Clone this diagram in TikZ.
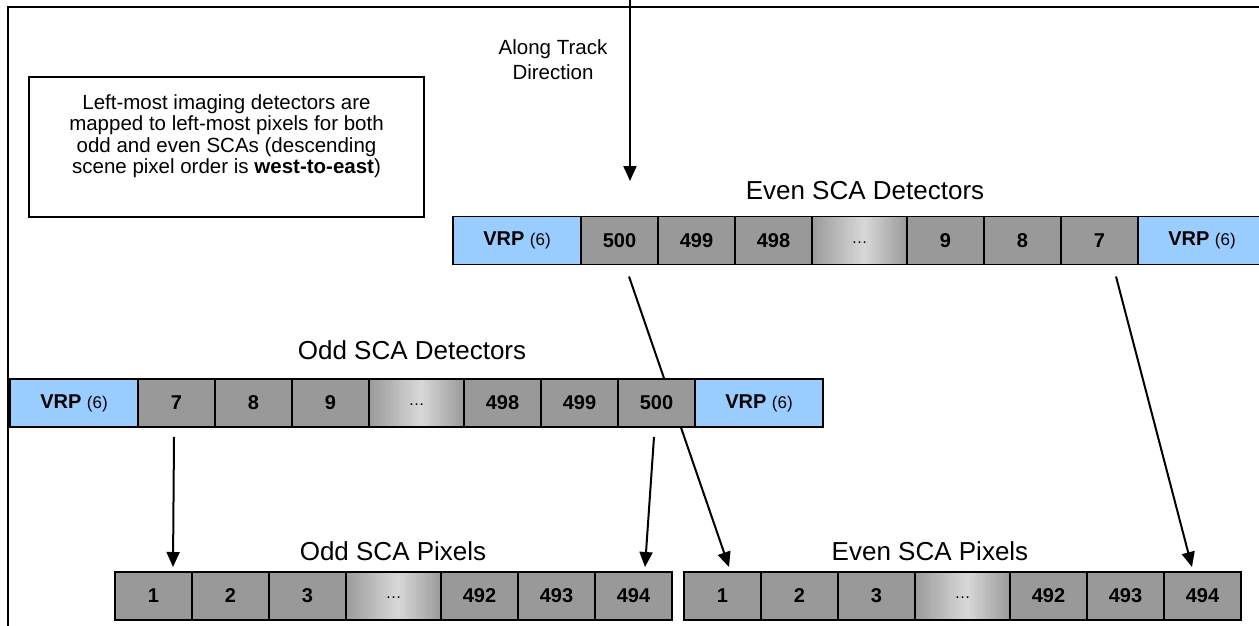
\documentclass[tikz,border=0pt]{standalone}
\usepackage{fontspec}
\setmainfont{Liberation Sans}
\usetikzlibrary{arrows.meta,calc,backgrounds}

\definecolor{cellgray}{HTML}{999999}
\definecolor{vrpblue}{HTML}{99CCFF}
\definecolor{gapdark}{HTML}{9A9A9A}
\definecolor{gaplight}{HTML}{D8D8D8}

\tikzset{
  basecell/.style={draw=black, line width=1.5pt, minimum height=48pt,
    inner sep=0pt, outer sep=0pt, anchor=west,
    font=\fontsize{20}{24}\selectfont\bfseries},
  cellbox/.style={basecell, fill=cellgray, minimum width=77pt},
  vrpbox/.style={basecell, fill=vrpblue, minimum width=128pt},
  % cell standing for the omitted run: grey fading to light and back
  gapbox/.style={basecell, minimum width=95pt, fill=gapdark,
    font=\fontsize{16}{20}\selectfont,
    path picture={
      \foreach \k in {0,...,59}{
        \pgfmathsetmacro{\t}{(\k+0.5)/60}
        \pgfmathtruncatemacro{\p}{\t<0.55 ? 100*(0.55-\t)/0.55 : 100*(\t-0.55)/0.45}
        \fill[gapdark!\p!gaplight]
          ($(path picture bounding box.south west)!{\k/60}!(path picture bounding box.south east)$)
          rectangle
          ($(path picture bounding box.north west)!{(\k+1.2)/60}!(path picture bounding box.north east)$);
      }}},
  rowlabel/.style={anchor=base, inner sep=0pt, font=\fontsize{26}{30}\selectfont},
  smalltext/.style={align=center, inner sep=0pt, font=\fontsize{20.5}{21.5}\selectfont},
  notebox/.style={draw=black, line width=1.5pt, minimum width=395pt, minimum height=140pt,
    inner sep=0pt},
  arr/.style={line width=2pt, -{Triangle[length=15pt, width=13pt]}},
  frameline/.style={line width=1.5pt}
}
\newcommand{\vrptext}{VRP {\fontsize{17}{20}\selectfont\mdseries(6)}}
\newcommand{\gapdots}{\raisebox{-5pt}{\dots}}

\begin{document}
\begin{tikzpicture}[x=1pt, y=-1pt]
\useasboundingbox (0,0) rectangle (1259,626);

% outer frame (open on the right and at the bottom)
\draw[frameline] (8,626) -- (8,7) -- (1259,7);

% explanatory note
\node[notebox] (note) at (226.5,147) {};
\node[smalltext] (notetext) at ($(note.center)+(0,-11)$)
  {Left-most imaging detectors are\\
   mapped to left-most pixels for both\\
   odd and even SCAs (descending\\
   scene pixel order is \textbf{west-to-east})};

% along-track direction
\node[smalltext, font=\fontsize{20.5}{25}\selectfont] (track) at (553,60) {Along Track\\Direction};
\coordinate (trackstart) at (630,0);
\coordinate (tracktip) at (630,181);

% even SCA detectors
\node[rowlabel] (evenlbl) at (865,199) {Even SCA Detectors};
\node[vrpbox]  (eV1)  at (453,240.5) {\vrptext};
\node[cellbox] (e500) at (eV1.east)  {500};
\node[cellbox] (e499) at (e500.east) {499};
\node[cellbox] (e498) at (e499.east) {498};
\node[gapbox]  (egap) at (e498.east) {\gapdots};
\node[cellbox] (e9)   at (egap.east) {9};
\node[cellbox] (e8)   at (e9.east)   {8};
\node[cellbox] (e7)   at (e8.east)   {7};
\node[vrpbox]  (eV2)  at (e7.east)   {\vrptext};

% odd SCA detectors
\node[rowlabel] (oddlbl) at (412,359) {Odd SCA Detectors};
\node[vrpbox]  (oV1)  at (10,403) {\vrptext};
\node[cellbox] (o7)   at (oV1.east)  {7};
\node[cellbox] (o8)   at (o7.east)   {8};
\node[cellbox] (o9)   at (o8.east)   {9};
\node[gapbox]  (ogap) at (o9.east)   {\gapdots};
\node[cellbox] (o498) at (ogap.east) {498};
\node[cellbox] (o499) at (o498.east) {499};
\node[cellbox] (o500) at (o499.east) {500};
\node[vrpbox]  (oV2)  at (o500.east) {\vrptext};

% odd SCA pixels
\node[rowlabel] (oddpixlbl) at (393,560) {Odd SCA Pixels};
\node[cellbox] (op1)   at (115,596)    {1};
\node[cellbox] (op2)   at (op1.east)   {2};
\node[cellbox] (op3)   at (op2.east)   {3};
\node[gapbox]  (opgap) at (op3.east)   {\gapdots};
\node[cellbox] (op492) at (opgap.east) {492};
\node[cellbox] (op493) at (op492.east) {493};
\node[cellbox] (op494) at (op493.east) {494};

% even SCA pixels
\node[rowlabel] (evenpixlbl) at (930,560) {Even SCA Pixels};
\node[cellbox] (ep1)   at (684,596)    {1};
\node[cellbox] (ep2)   at (ep1.east)   {2};
\node[cellbox] (ep3)   at (ep2.east)   {3};
\node[gapbox]  (epgap) at (ep3.east)   {\gapdots};
\node[cellbox] (ep492) at (epgap.east) {492};
\node[cellbox] (ep493) at (ep492.east) {493};
\node[cellbox] (ep494) at (ep493.east) {494};

% detector-to-pixel mapping arrows (kept behind the cell rows)
\begin{scope}[on background layer]
  \draw[arr] (trackstart) -- (tracktip);
  \draw[arr] ($(e500.south)+(9.5,12)$) -- ($(ep1.north)+(6.5,-5)$);
  \draw[arr] ($(e7.south)+(16.5,12)$)  -- ($(ep494.north)+(-10.5,-5)$);
  \draw[arr] ($(o7.south)+(-2.5,10)$)  -- ($(op1.north)+(19.5,-5)$);
  \draw[arr] ($(o500.south)+(-2.5,10)$) -- ($(op494.north)+(11.5,-5)$);
\end{scope}
\end{tikzpicture}
\end{document}
